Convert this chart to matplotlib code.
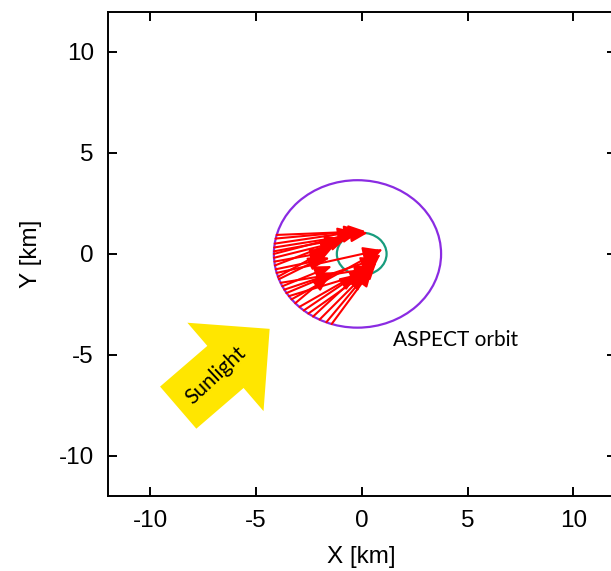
import numpy as np
import matplotlib
matplotlib.use('Agg')
import matplotlib.pyplot as plt
from matplotlib.patches import Ellipse, FancyArrowPatch

# orbit (purple) and asteroid outline (green), km
orbit_center = (-0.2, 0.0)
orbit_width, orbit_height = 7.9, 7.3
body_center = (0.0, 0.0)
body_width, body_height = 2.35, 2.1

# red arrows: start on the orbit, end at the body
x_start = [-4.02, -4.07, -4.11, -4.13, -4.14, -4.15, -4.14, -4.12, -4.10,
           -4.06, -4.02, -3.96, -3.91, -3.83, -3.75, -3.66, -3.56, -3.44,
           -3.32, -3.14, -2.94, -2.74, -2.52, -2.30, -1.99, -1.67, -1.42]
y_start = [0.94, 0.76, 0.51, 0.32, 0.13, 0.00, -0.19, -0.38, -0.57,
           -0.76, -0.94, -1.13, -1.25, -1.43, -1.60, -1.77, -1.94, -2.09,
           -2.25, -2.44, -2.62, -2.80, -2.95, -3.10, -3.25, -3.38, -3.47]
x_end = [0.20, 0.00, -0.30, 0.30, -0.90, -0.10, -1.10, -1.60, -0.70,
         -1.50, 0.90, -1.30, -1.70, 0.50, -1.40, 0.80, -1.20, 0.30,
         1.00, -1.50, 0.60, -0.20, 0.40, 0.90, 0.20, 0.70, 0.50]
y_end = [1.12, 1.15, 1.10, 1.05, 0.75, 1.10, 0.60, 0.10, 0.80,
         -0.20, 0.20, 0.40, -0.10, -0.70, -0.60, -0.20, -0.90, -0.90,
         0.25, -1.00, -0.50, -1.00, -0.80, 0.00, -0.95, -0.40, -0.75]

# sunlight arrow, tail and tip
sun_tail = (-8.77, -7.70)
sun_tip = (-4.25, -3.62)

xticks = [-10, -5, 0, 5, 10]
yticks = [-10, -5, 0, 5, 10]

plt.rcParams['font.family'] = ['Liberation Sans', 'DejaVu Sans']
plt.rcParams['axes.unicode_minus'] = False

fig = plt.figure(figsize=(6.11, 5.71), dpi=100)
ax = fig.add_axes([0.1763, 0.1308, 0.8314, 0.849])

ax.set_xlim(-12, 12)
ax.set_ylim(-12, 12)
ax.set_xticks(xticks)
ax.set_yticks(yticks)
ax.tick_params(direction='in', length=6.5, width=1.4, top=True, right=True,
               labelsize=17.5, pad=10)
for sp in ax.spines.values():
    sp.set_linewidth(1.4)
ax.set_xlabel('X [km]', fontsize=17.5, labelpad=10)
ax.set_ylabel('Y [km]', fontsize=17.5, labelpad=12)

ax.add_patch(Ellipse(orbit_center, orbit_width, orbit_height, fill=False,
                     edgecolor='#8a2be2', lw=1.6, zorder=2))
ax.add_patch(Ellipse(body_center, body_width, body_height, fill=False,
                     edgecolor='#179c7d', lw=1.6, zorder=2))

for i in range(len(x_start)):
    ax.annotate('', xy=(x_end[i], y_end[i]), xytext=(x_start[i], y_start[i]),
                arrowprops=dict(arrowstyle='-|>,head_length=0.7,head_width=0.27',
                                color='#ff0000', lw=1.5, mutation_scale=15,
                                shrinkA=0, shrinkB=0), zorder=3)

sun = FancyArrowPatch(sun_tail, sun_tip,
                      arrowstyle='simple,head_length=42,head_width=84,tail_width=40',
                      mutation_scale=1, color='#ffe600', lw=0, zorder=2)
ax.add_patch(sun)
ax.text(-6.92, -6.0, 'Sunlight', rotation=43, ha='center', va='center',
        fontsize=15, family=['Lato', 'DejaVu Sans'], color='black', zorder=4,
        rotation_mode='anchor')
ax.text(1.46, -4.26, 'ASPECT orbit', ha='left', va='center', fontsize=15,
        family=['Lato', 'DejaVu Sans'], color='black')

fig.savefig('out.png', dpi=100)
